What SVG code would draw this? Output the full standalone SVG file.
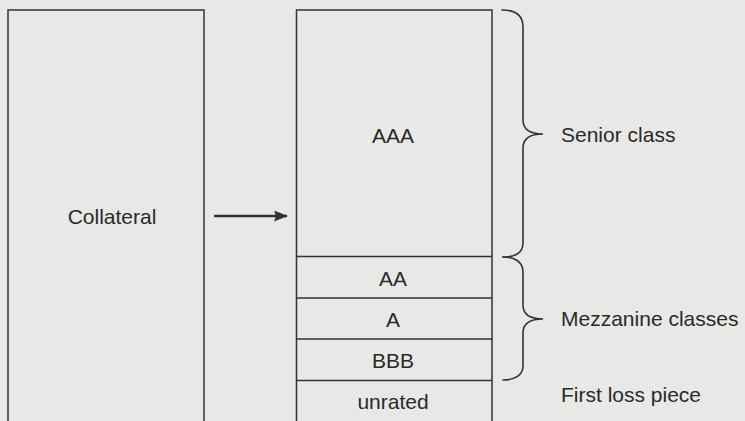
<svg xmlns="http://www.w3.org/2000/svg" width="745" height="421" viewBox="0 0 745 421">
  <style>
    .box { fill: none; stroke: #333333; stroke-width: 1.5; }
    .rule { stroke: #333333; stroke-width: 1.5; }
    .lbl { font-family: "Liberation Sans", Arial, sans-serif; font-size: 21px; fill: #2a2a2a; }
    .mid { text-anchor: middle; }
    .brace { fill: none; stroke: #333333; stroke-width: 1.6; stroke-linecap: round; }
  </style>
  <defs>
    <marker id="arrowhead" markerWidth="14" markerHeight="11" refX="13" refY="5.5" orient="auto" markerUnits="userSpaceOnUse">
      <path d="M0,0 L14,5.5 L0,11 L2,5.5 Z" fill="#333333"/>
    </marker>
  </defs>

  <rect width="745" height="421" fill="#e8e8e6"/>

  <!-- Collateral pool -->
  <g id="collateral">
    <path class="box" d="M8,425 L8,10 L204,10 L204,425"/>
    <text class="lbl mid" x="112" y="224">Collateral</text>
  </g>

  <!-- Tranche stack -->
  <g id="tranches">
    <path class="box" d="M296.5,425 L296.5,10 L492,10 L492,425"/>
    <g id="aaa">
      <text class="lbl mid" x="393" y="143">AAA</text>
    </g>
    <g id="aa">
      <line class="rule" x1="296" y1="256.5" x2="492" y2="256.5"/>
      <text class="lbl mid" x="393" y="286">AA</text>
    </g>
    <g id="a">
      <line class="rule" x1="296" y1="298" x2="492" y2="298"/>
      <text class="lbl mid" x="393" y="327">A</text>
    </g>
    <g id="bbb">
      <line class="rule" x1="296" y1="339" x2="492" y2="339"/>
      <text class="lbl mid" x="393" y="368">BBB</text>
    </g>
    <g id="unrated">
      <line class="rule" x1="296" y1="380.5" x2="492" y2="380.5"/>
      <text class="lbl mid" x="393" y="409">unrated</text>
    </g>
  </g>

  <!-- Connectors -->
  <g id="connectors">
    <line x1="214" y1="216" x2="287" y2="216" stroke="#333333" stroke-width="2.6" marker-end="url(#arrowhead)"/>
  </g>

  <!-- Class groupings -->
  <g id="senior-class">
    <path class="brace" d="M502,10 C516,10 523,15 523,27 L523,120 C523,129 530,134 543,134 C530,134 523,139 523,148 L523,243 C523,252 516,257 503,257"/>
    <text class="lbl" x="561" y="142">Senior class</text>
  </g>
  <g id="mezzanine-classes">
    <path class="brace" d="M503,257 C515,257 523,262 523,272 L523,305 C523,314 530,319 543,319 C530,319 523,324 523,333 L523,366 C523,375 515,380 503,380"/>
    <text class="lbl" x="561" y="326">Mezzanine classes</text>
  </g>
  <g id="first-loss">
    <text class="lbl" x="561" y="402">First loss piece</text>
  </g>
</svg>
